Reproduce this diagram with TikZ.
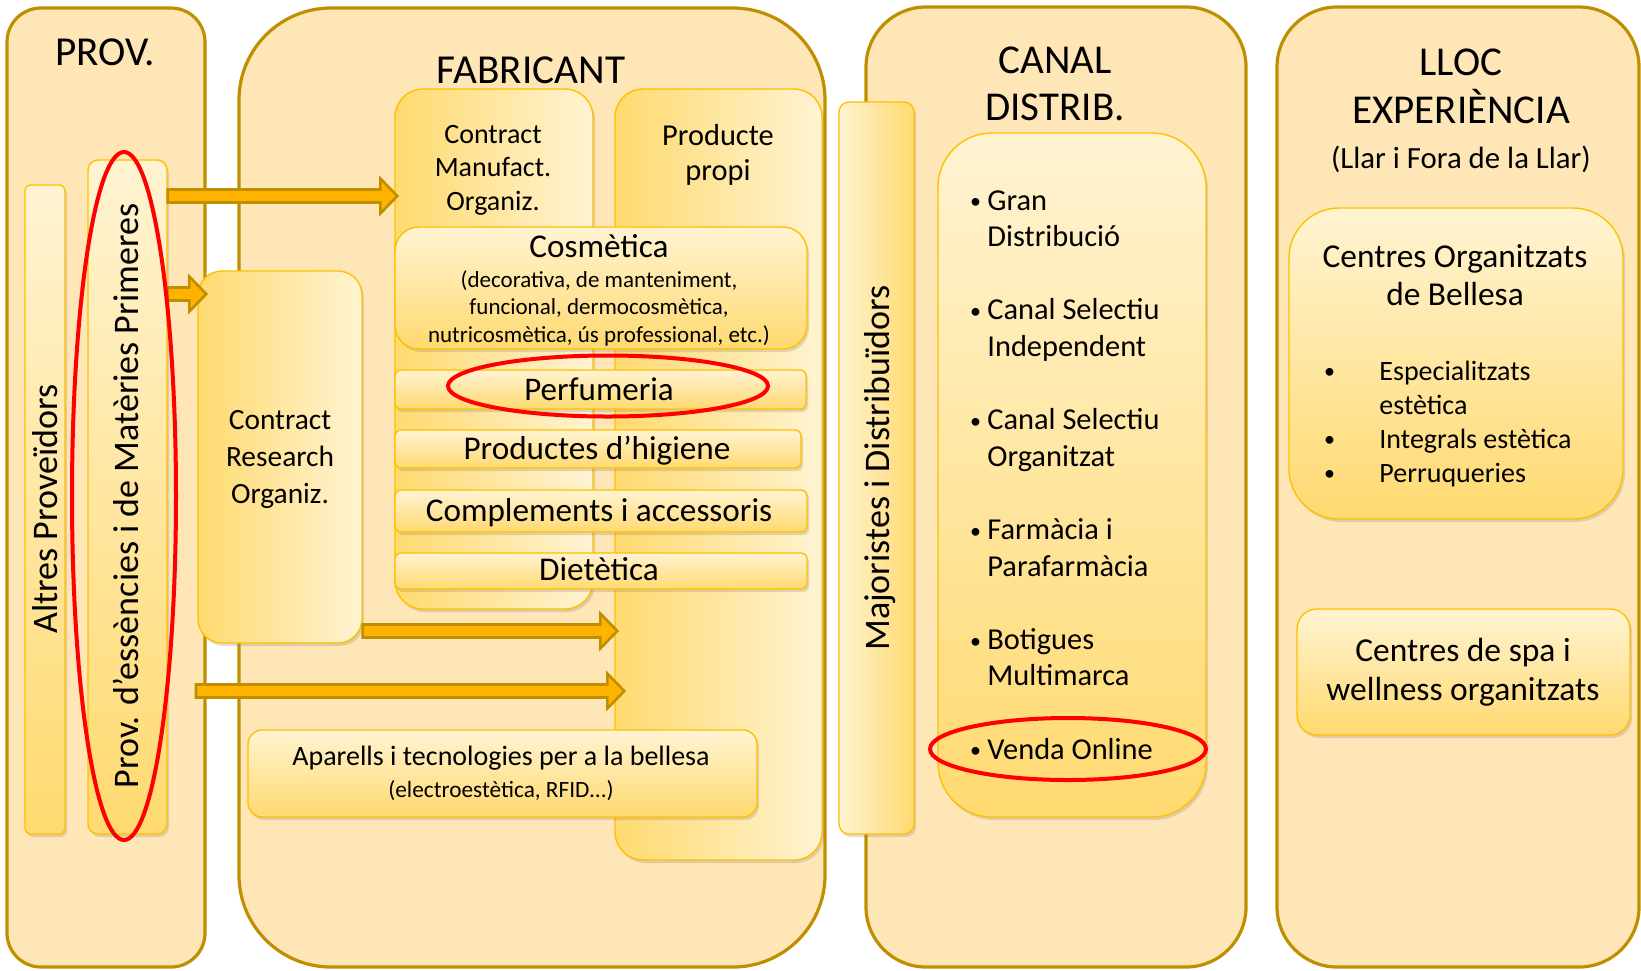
\documentclass[tikz,border=0pt]{standalone}
\usepackage{fontspec}
\setmainfont{Carlito}
\usetikzlibrary{shapes.geometric,shadows,calc}
\definecolor{outerfill}{RGB}{254,230,183}
\definecolor{outerdraw}{RGB}{191,143,0}
\definecolor{lite}{RGB}{255,243,210}
\definecolor{dark}{RGB}{255,218,112}
\definecolor{innerdraw}{RGB}{255,192,0}
\definecolor{arrfill}{RGB}{255,178,0}
\newcommand\fs[2]{\fontsize{#1}{#2}\selectfont}
\newcommand\blockarrow[2]{%
  \draw[barrow] let \p1=(#1), \p2=(#2) in
   (\x1,\y1+3.25pt) -- (\x2-8.5pt,\y1+3.25pt) -- (\x2-8.5pt,\y1+8.75pt) -- (\x2,\y1)
   -- (\x2-8.5pt,\y1-8.75pt) -- (\x2-8.5pt,\y1-3.25pt) -- (\x1,\y1-3.25pt) -- cycle;}
\newcommand\smallbul{\raisebox{0.6pt}{\fs{11pt}{11pt}\textbullet}}
\newcommand\bul{\makebox[9.5pt][l]{\hspace*{0.8pt}\smallbul}}
\newcommand\ind{\hspace*{9.5pt}}
\newcommand\bulb{\makebox[28.5pt][l]{\hspace*{0.8pt}\smallbul}}
\newcommand\indb{\hspace*{28.5pt}}
\begin{document}
\begin{tikzpicture}[x=0.5pt,y=-0.5pt,
  outerbox/.style={draw=outerdraw, line width=1.6pt, fill=outerfill, inner sep=0pt, rectangle},
  innerbox/.style={draw=innerdraw, line width=0.7pt, inner sep=0pt, rectangle,
     drop shadow={shadow xshift=1pt, shadow yshift=-1.5pt, opacity=0.25}},
  vgrad/.style={top color=lite, bottom color=dark},
  hgrad/.style={left color=dark, right color=lite},
  hgradr/.style={left color=lite, right color=dark},
  ring/.style={draw=red, line width=2pt, ellipse, inner sep=0pt},
  barrow/.style={fill=arrfill, draw=outerdraw, line width=1.3pt},
  tl/.style={inner sep=0pt, anchor=base},
  vtext/.style={inner sep=0pt, anchor=base, rotate=90, font=\fs{18pt}{21pt}}]
\useasboundingbox (0,0) rectangle (1641,970);
\fill[white] (0,0) rectangle (1641,970);
% outer columns
\node[outerbox, rounded corners=17pt, minimum width=99pt, minimum height=479.5pt] (prov) at (106,487.5) {};
\node[outerbox, rounded corners=46pt, minimum width=293pt, minimum height=479.5pt] (fab) at (532,487.5) {};
\node[outerbox, rounded corners=30pt, minimum width=190pt, minimum height=480pt] (canal) at (1056,487) {};
\node[outerbox, rounded corners=30pt, minimum width=181pt, minimum height=480pt] (lloc) at (1458,487) {};
% headers
\node[tl, font=\fs{20.6pt}{23.5pt}] (provt) at (105,65) {PROV.};
\node[tl, font=\fs{20.6pt}{23.5pt}] (fabt) at (531,83) {FABRICANT};
\node[tl, font=\fs{20.5pt}{23.5pt}] (canalt) at (1055,73) {\begin{tabular}[t]{@{}c@{}}CANAL\\DISTRIB.\end{tabular}};
\node[tl, font=\fs{20.5pt}{24pt}] (lloct) at (1461,75) {\begin{tabular}[t]{@{}c@{}}LLOC\\EXPERIÈNCIA\end{tabular}};
\node[tl, font=\fs{15.4pt}{18pt}] (llar) at (1461,168) {(Llar i Fora de la Llar)};
% PROV bars
\node[innerbox, vgrad, rounded corners=3pt, minimum width=20pt, minimum height=324.5pt] (altres) at (45,509.5) {};
\node[vtext] (altrest) at (57,509) {Altres Proveïdors};
\node[innerbox, vgrad, rounded corners=5pt, minimum width=39.5pt, minimum height=337pt] (provb) at (127.5,497) {};
\node[vtext] (provbt) at (138,496) {Prov. d’essències i de Matèries Primeres};
% FABRICANT boxes
\node[innerbox, hgrad, rounded corners=14pt, minimum width=99pt, minimum height=260pt] (cmo) at (494,349) {};
\node[tl, font=\fs{14pt}{16.75pt}] (cmot) at (493,143) {\begin{tabular}[t]{@{}c@{}}Contract\\Manufact.\\Organiz.\end{tabular}};
\node[innerbox, hgrad, rounded corners=14pt, minimum width=103.5pt, minimum height=385.5pt] (pp) at (718.5,474.5) {};
\node[tl, font=\fs{15.2pt}{17.5pt}] (ppt) at (718,145) {\begin{tabular}[t]{@{}c@{}}Producte\\propi\end{tabular}};
\node[innerbox, hgrad, rounded corners=12pt, minimum width=82pt, minimum height=186pt] (cro) at (280,457) {};
\node[tl, font=\fs{14.7pt}{18.5pt}] (crot) at (280,429) {\begin{tabular}[t]{@{}c@{}}Contract\\Research\\Organiz.\end{tabular}};
\node[innerbox, vgrad, rounded corners=12pt, minimum width=206pt, minimum height=61pt] (cosm) at (601,288) {};
\node[tl, font=\fs{16.6pt}{19pt}] (cosmt) at (599,257) {Cosmètica};
\node[tl, font=\fs{11.5pt}{13.75pt}] (cosms) at (599,287) {\begin{tabular}[t]{@{}c@{}}(decorativa, de manteniment,\\funcional, dermocosmètica,\\nutricosmètica, ús professional, etc.)\end{tabular}};
\node[innerbox, vgrad, rounded corners=3pt, minimum width=205.5pt, minimum height=19.5pt] (perf) at (600.5,389.5) {};
\node[tl, font=\fs{16.5pt}{19pt}] (perft) at (599,400) {Perfumeria};
\node[innerbox, vgrad, rounded corners=3pt, minimum width=203pt, minimum height=19pt] (hig) at (598,449) {};
\node[tl, font=\fs{16.6pt}{19pt}] (higt) at (597,459) {Productes d’higiene};
\node[innerbox, vgrad, rounded corners=3pt, minimum width=206pt, minimum height=21pt] (compl) at (601,511) {};
\node[tl, font=\fs{16.6pt}{19pt}] (complt) at (599,521) {Complements i accessoris};
\node[innerbox, vgrad, rounded corners=3pt, minimum width=206pt, minimum height=18pt] (diet) at (601,571) {};
\node[tl, font=\fs{16.6pt}{19pt}] (dietT) at (599,580) {Dietètica};
\node[innerbox, vgrad, rounded corners=7pt, minimum width=254.5pt, minimum height=43.5pt] (apar) at (502.5,773.5) {};
\node[tl, font=\fs{14pt}{17pt}] (apart) at (501,765) {Aparells i tecnologies per a la bellesa};
\node[tl, font=\fs{11.65pt}{14pt}] (apars) at (501,797) {(electroestètica, RFID...)};
% CANAL
\node[innerbox, hgradr, rounded corners=5pt, minimum width=37.5pt, minimum height=366pt] (maj) at (876.5,468) {};
\node[vtext] (majt) at (889,468) {Majoristes i Distribuïdors};
\node[innerbox, vgrad, rounded corners=27pt, minimum width=134pt, minimum height=342pt] (canl) at (1072,475) {};
\node[tl, anchor=base west, font=\fs{15.2pt}{18.3pt}] (canlist) at (968,210) {\begin{tabular}[t]{@{}l@{}}\bul Gran\\\ind Distribució\\[18.3pt]
\bul Canal Selectiu\\\ind Independent\\[18.3pt]
\bul Canal Selectiu\\\ind Organitzat\\[18.3pt]
\bul Farmàcia i\\\ind Parafarmàcia\\[18.3pt]
\bul Botigues\\\ind Multimarca\\[18.3pt]
\bul Venda Online\end{tabular}};
% LLOC
\node[innerbox, vgrad, rounded corners=25pt, minimum width=167pt, minimum height=155.5pt] (cob) at (1456,363.5) {};
\node[tl, font=\fs{16.7pt}{19.3pt}] (cobt) at (1455,267) {\begin{tabular}[t]{@{}c@{}}Centres Organitzats\\de Bellesa\end{tabular}};
\node[tl, anchor=base west, font=\fs{14pt}{17pt}] (coblist) at (1322,380) {\begin{tabular}[t]{@{}l@{}}\bulb Especialitzats\\\indb estètica\\\bulb Integrals estètica\\\bulb Perruqueries\end{tabular}};
\node[innerbox, vgrad, rounded corners=10pt, minimum width=166.5pt, minimum height=63pt] (spa) at (1463.5,672) {};
\node[tl, font=\fs{16.75pt}{19.3pt}] (spat) at (1463,661.5) {\begin{tabular}[t]{@{}c@{}}Centres de spa i\\wellness organitzats\end{tabular}};
% arrows
\coordinate (a1s) at (provb.east |- 0,196);
\coordinate (a1e) at ($(cmo.west |- 0,196)+(3,0)$);
\coordinate (a2s) at (provb.east |- 0,294);
\coordinate (a2e) at ($(cro.west |- 0,294)+(9,0)$);
\coordinate (a3s) at (cro.east |- 0,631);
\coordinate (a3e) at ($(pp.west |- 0,631)+(3,0)$);
\coordinate (a4s) at (196,691);
\coordinate (a4e) at ($(pp.west |- 0,691)+(10,0)$);
\blockarrow{a1s}{a1e}
\blockarrow{a2s}{a2e}
\blockarrow{a3s}{a3e}
\blockarrow{a4s}{a4e}
% red rings
\node[ring, minimum width=52pt, minimum height=344pt] (r1) at (124,496) {};
\node[ring, minimum width=160pt, minimum height=30.5pt] (r2) at (608,386) {};
\node[ring, minimum width=138pt, minimum height=31pt] (r3) at (1068,749) {};
\end{tikzpicture}
\end{document}
